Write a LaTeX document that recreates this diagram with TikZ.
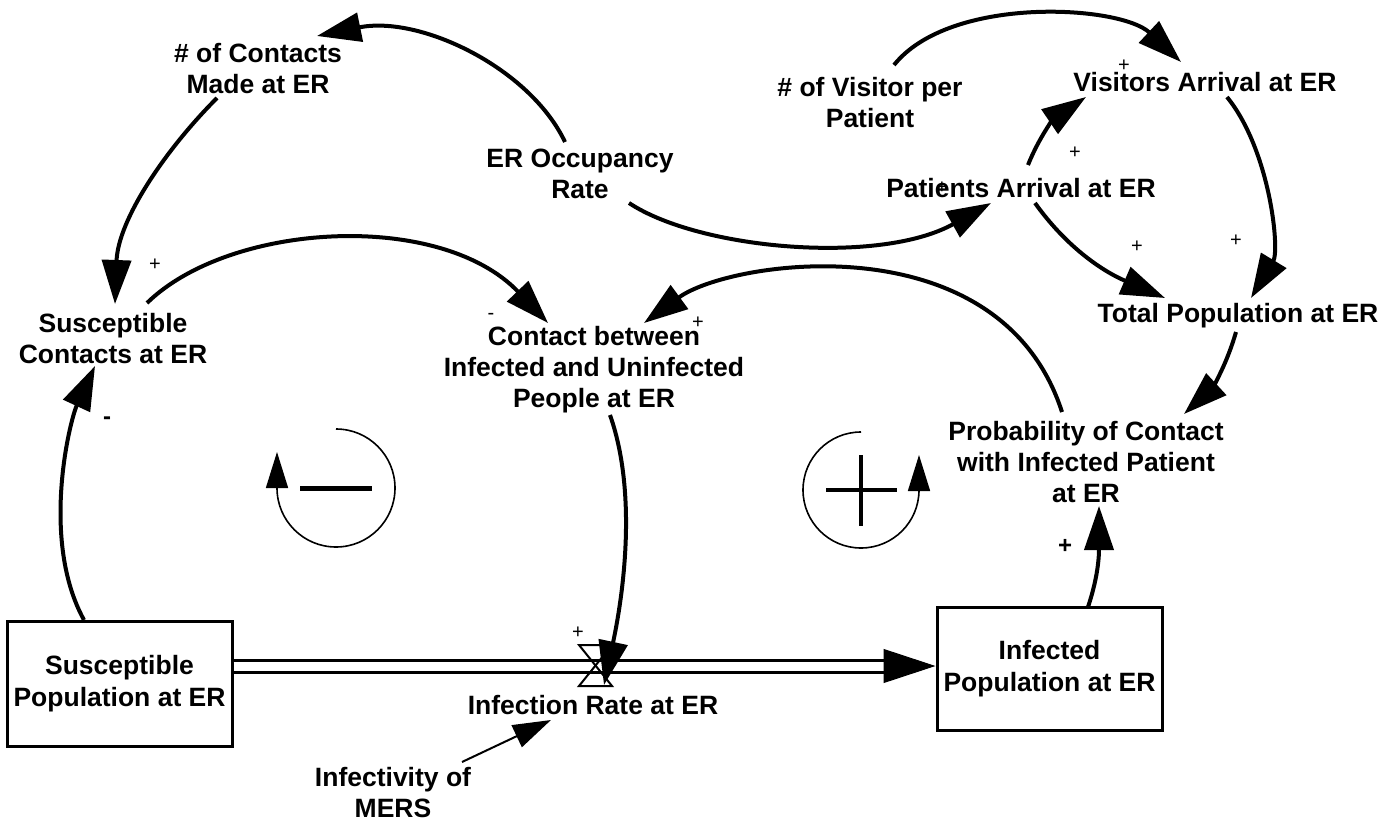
\documentclass[tikz,border=0pt]{standalone}
\usepackage{fontspec}
\setmainfont{Liberation Sans}
\usetikzlibrary{arrows.meta}
\begin{document}
\begin{tikzpicture}[x=1pt,y=-1pt,
  lbl/.style={font=\fontsize{26.5}{31}\selectfont\bfseries, align=center, inner sep=0pt},
  stock/.style={draw, line width=3pt, minimum width=225pt, font=\fontsize{26.5}{32}\selectfont\bfseries, align=center, inner sep=0pt},
  link/.style={line width=4pt, -{Triangle[length=44pt,width=29pt]}},
  thinlink/.style={line width=2pt, -{Triangle[length=38pt,width=24pt]}},
  sgn/.style={font=\fontsize{20}{20}\selectfont, inner sep=0pt},
  bsgn/.style={font=\fontsize{24}{24}\selectfont\bfseries, inner sep=0pt},
  loopc/.style={line width=1.6pt},
  loophead/.style={line width=1.6pt, -{Triangle[length=36pt,width=22pt]}},
]
\useasboundingbox[fill=white] (0,0) rectangle (1400,821);

% variables
\node[lbl] (cnt)  at (258,69)  {\# of Contacts\\Made at ER};
\node[lbl] (occ)  at (580,174) {ER Occupancy\\Rate};
\node[lbl] (vpp)  at (870,103) {\# of Visitor per\\Patient};
\node[lbl] (vis)  at (1205,82) {Visitors Arrival at ER};
\node[lbl] (pat)  at (1021,188) {Patients Arrival at ER};
\node[lbl] (tot)  at (1238,316) {Total Population at ER};
\node[lbl] (sc)   at (113,339) {Susceptible\\Contacts at ER};
\node[lbl] (cb)   at (594,370) {Contact between\\Infected and Uninfected\\People at ER};
\node[lbl] (prob) at (1086,462) {Probability of Contact\\with Infected Patient\\at ER};
\node[lbl] (ir)   at (593,705) {Infection Rate at ER};
\node[lbl] (inf)  at (393,793) {Infectivity of\\MERS};

% stocks
\node[stock, minimum height=125pt] (sp) at (119.5,683.5) {Susceptible\\Population at ER};
\node[stock, minimum height=123pt] (ip) at (1049.5,668.5) {Infected\\Population at ER};

% connector end points
\coordinate (occ-up)  at (565,142);
\coordinate (cnt-in)  at (317,36);
\coordinate (cnt-out) at (217,98);
\coordinate (sc-in)   at (115,304);
\coordinate (sc-out)  at (147,303);
\coordinate (cb-inl)  at (548,323);
\coordinate (prob-out) at (1062,412);
\coordinate (cb-inr)  at (644,323);
\coordinate (occ-out) at (629,203);
\coordinate (pat-in)  at (991,203);
\coordinate (vpp-out) at (894,65);
\coordinate (vis-inl) at (1181,62);
\coordinate (pat-up)  at (1028,165);
\coordinate (vis-inb) at (1086,97);
\coordinate (pat-dn)  at (1035,203);
\coordinate (tot-inl) at (1165,298);
\coordinate (vis-out) at (1227,97);
\coordinate (tot-inr) at (1251,298);
\coordinate (tot-out) at (1236,332);
\coordinate (prob-inr) at (1184,414);
\coordinate (ip-out)  at (1088,607);
\coordinate (prob-inb) at (1099,506);
\coordinate (sp-out)  at (84,620);
\coordinate (sc-inb)  at (95,366);
\coordinate (cb-out)  at (610,415);
\coordinate (valve)   at (604,685);
\coordinate (inf-out) at (462,762);
\coordinate (ir-in)   at (551,720);

% causal links
\draw[link] (occ-up) .. controls (530,68) and (420,15) .. (cnt-in);
\draw[link] (cnt-out) .. controls (165,150) and (118,220) .. (sc-in);
\draw[link] (sc-out) .. controls (230,222) and (440,210) .. (cb-inl);
\draw[link] (prob-out) .. controls (1000,220) and (730,260) .. (cb-inr);
\draw[link] (occ-out) .. controls (700,250) and (880,265) .. (pat-in);
\draw[link] (vpp-out) .. controls (950,-5) and (1120,5) .. (vis-inl);
\draw[link] (pat-up) .. controls (1040,135) and (1055,118) .. (vis-inb);
\draw[link] (pat-dn) .. controls (1065,245) and (1100,270) .. (tot-inl);
\draw[link] (vis-out) .. controls (1270,150) and (1280,250) .. (tot-inr);
\draw[link] (tot-out) .. controls (1225,370) and (1210,390) .. (prob-inr);
\draw[link] (ip-out) .. controls (1097,580) and (1099,560) .. (prob-inb);
\draw[link] (sp-out) .. controls (40,540) and (70,420) .. (sc-inb);

% material flow with valve
\coordinate (pipe-end) at (885,666);
\draw[line width=3pt, double=white, double distance=9pt] (sp.east |- pipe-end) -- (pipe-end);
\draw[line width=1pt, -{Triangle[length=52pt,width=34pt]}] (pipe-end) -- (ip.west |- pipe-end);
\draw[line width=2pt] (579,645) -- (612,645) -- (579,686) -- (612,686) -- cycle;

\draw[link] (cb-out) .. controls (640,500) and (620,610) .. (valve);
\draw[thinlink] (inf-out) -- (ir-in);

% polarity signs
\node[sgn] (s1) at (155,265) {+};
\node[sgn] (s2) at (491,316) {-};
\node[sgn] (s3) at (698,323) {+};
\node[sgn] (s4) at (1124,66) {+};
\node[sgn] (s5) at (942,188) {+};
\node[sgn] (s6) at (1075,153) {+};
\node[sgn] (s7) at (1137,247) {+};
\node[sgn] (s8) at (1236,241) {+};
\node[sgn] (s9) at (578,633) {+};
\node[bsgn] (s10) at (1065,546) {+};
\node[bsgn] (s11) at (107,421) {-};

% balancing loop
\draw[loopc] (336,429) arc[start angle=270, end angle=540, radius=59];
\draw[loophead] (277,490) -- (277,452);
\draw[line width=5pt] (300,488) -- (372,488);

% reinforcing loop
\draw[loopc] (861,432) arc[start angle=270, end angle=0, radius=58];
\draw[loophead] (919,492) -- (919,455);
\draw[line width=4pt] (826,490) -- (897,490);
\draw[line width=4pt] (861,455) -- (861,526);
\end{tikzpicture}
\end{document}
